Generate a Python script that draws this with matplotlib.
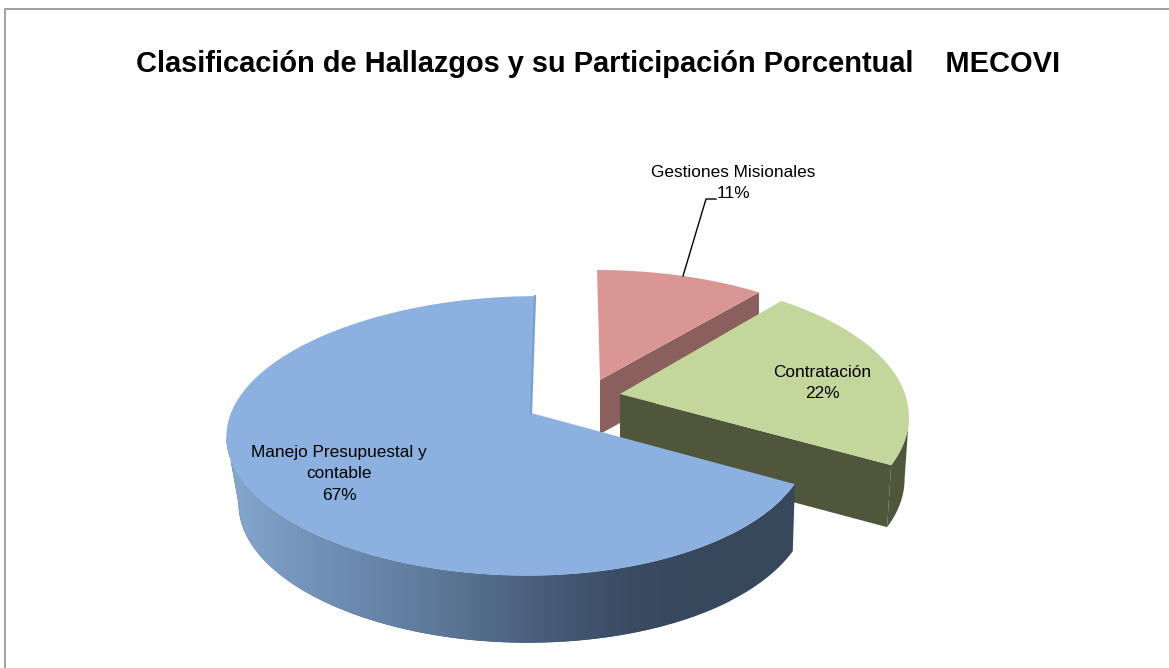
import numpy as np
import matplotlib
matplotlib.use('Agg')
import matplotlib.pyplot as plt
from matplotlib.patches import Polygon
from matplotlib.colors import LinearSegmentedColormap

plt.rcParams['font.family'] = ['Liberation Sans', 'DejaVu Sans']

# Datos
categorias = ['Gestiones Misionales', 'Contratación', 'Manejo Presupuestal y\ncontable']
porcentajes = [11, 22, 67]
titulo = 'Clasificación de Hallazgos y su Participación Porcentual    MECOVI'

# Vertice de cada porcion en pixeles, altura del costado
vertices = [(600, 380), (620, 394), (531, 413)]
alturas = [54, 62, 67]
caras = ['#d99694', '#c3d69b', '#8cb1e1']
costados = ['#8a5f5e', '#4f563c', None]

# Perspectiva de cada porcion
radio_x = [285, 285, 289]
radio_y = [128, 136, 136]
asimetria = [0, 0, -11]
inclinacion = [-3, 0, 4]
k = 0.164


def borde(ini, fin, i, n=300):
    t = np.radians(np.linspace(ini, fin, n))
    x, y = np.sin(t), np.cos(t)
    d = 1 + k * y
    dx = (radio_x[i] + asimetria[i] * x) * x / d + inclinacion[i] * y
    dy = -radio_y[i] * y / d
    return dx, dy


fig = plt.figure(figsize=(11.69, 6.68), dpi=100)
ax = fig.add_axes([0, 0, 1, 1])
ax.set_xlim(0, 1169)
ax.set_ylim(668, 0)
ax.axis('off')

# Marco
ax.plot([5, 5, 1169], [668, 9, 9], color='#a0a0a0', lw=1.4)

ang = np.concatenate([[0], np.cumsum(porcentajes) * 3.6])

# Gestiones: costado y cara
v = vertices[0]
dx, dy = borde(ang[0], ang[1], 0)
xs, ys = v[0] + dx, v[1] + dy
h = alturas[0]
ax.add_patch(Polygon([v, (xs[-1], ys[-1]), (xs[-1], ys[-1] + h), (v[0], v[1] + h)],
                     fc=costados[0], ec='none', zorder=2))
ax.add_patch(Polygon(np.r_[[v], np.c_[xs, ys]], fc=caras[0], ec='none', zorder=3))

# Contratacion: costado y cara
v = vertices[1]
h = alturas[1]
dx, dy = borde(ang[1], ang[2], 1)
xs, ys = v[0] + dx, v[1] + dy
xb, yb = v[0] + dx * 0.985, ys + h
ax.add_patch(Polygon([v, (xs[-1], ys[-1]), (xb[-1], yb[-1]), (v[0], v[1] + h)],
                     fc=costados[1], ec='none', zorder=4))
i = np.argmax(xs)
ax.add_patch(Polygon(np.r_[np.c_[xs[i:], ys[i:]], np.c_[xb[i:], yb[i:]][::-1]],
                     fc=costados[1], ec='none', zorder=4))
ax.add_patch(Polygon(np.r_[[v], np.c_[xs, ys]], fc=caras[1], ec='none', zorder=5))

# Manejo: costado con degradado y cara
v = vertices[2]
h = alturas[2]
dx, dy = borde(ang[2], ang[3], 2, 600)
xs, ys = v[0] + dx, v[1] + dy
i = np.argmin(xs)
xb = v[0] + np.where(dx < 0, dx * 0.96, dx * 0.992)
lado = np.r_[np.c_[xs[:i + 1], ys[:i + 1]], np.c_[xb[:i + 1], ys[:i + 1] + h][::-1]]
cmap = LinearSegmentedColormap.from_list('lado', ['#86a7ce', '#6f8fb5', '#5f7b9c', '#4b607e', '#3a4b62', '#37475c'])
im = ax.imshow(np.linspace(0, 1, 256)[None, :], cmap=cmap, aspect='auto',
               extent=(xs.min(), 730, 668, 0), zorder=6)
ax.add_patch(Polygon(lado, fc='#37475c', ec='none', zorder=5.9))
clip = Polygon(lado, transform=ax.transData, fc='none', ec='none')
ax.add_patch(clip)
im.set_clip_path(clip)
ax.set_xlim(0, 1169)
ax.set_ylim(668, 0)
ax.add_patch(Polygon(np.r_[[v], np.c_[xs, ys]], fc=caras[2], ec='none', zorder=7))
ax.plot([v[0], xs[-1]], [v[1], ys[-1]], color='#7c9fcb', lw=1.6, zorder=7.5)

# Textos
ax.text(598, 64, titulo, fontsize=20.9, fontweight='bold', ha='center', va='center', color='black', zorder=9)
ax.text(733, 183, f'{categorias[0]}\n{porcentajes[0]}%', fontsize=12.4, ha='center', va='center',
        linespacing=1.55, zorder=9)
ax.text(822, 383, f'{categorias[1]}\n{porcentajes[1]}%', fontsize=12.4, ha='center', va='center',
        linespacing=1.55, zorder=9)
ax.text(339, 474, f'{categorias[2]}\n{porcentajes[2]}%', fontsize=12.4, ha='center', va='center',
        linespacing=1.55, zorder=9)

# Linea guia
ax.plot([683, 706, 716], [276, 199, 199], color='black', lw=1, zorder=8)

fig.savefig('out.png', dpi=100, facecolor='white')
